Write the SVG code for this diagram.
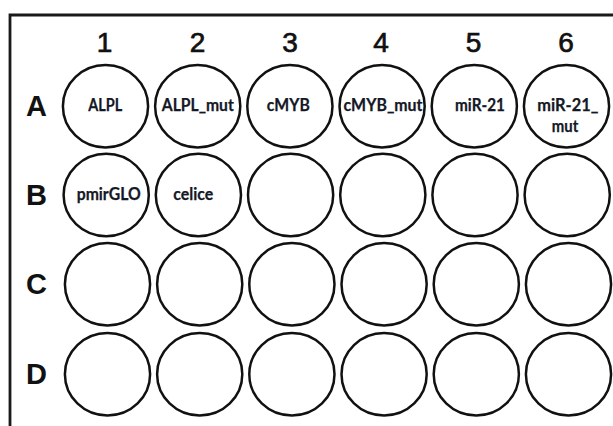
<svg xmlns="http://www.w3.org/2000/svg" width="613" height="426" viewBox="0 0 613 426">
  <style>
    .frame { fill: none; stroke: #1a1a1a; stroke-width: 2.8; }
    .well { fill: #ffffff; stroke: #111111; stroke-width: 2.5; }
    .col { font-family: "Liberation Sans", Arial, sans-serif; font-size: 28px; fill: #111111; stroke: #111111; stroke-width: 0.7; text-anchor: middle; }
    .row { font-family: "Liberation Sans", Arial, sans-serif; font-size: 29px; font-weight: bold; fill: #111111; text-anchor: middle; }
    .lbl { font-family: Lato, "Open Sans", sans-serif; font-size: 16.5px; font-weight: bold; fill: #141826; stroke: #141826; stroke-width: 0.25; text-anchor: middle; }
  </style>

  <!-- plate outline: top and left edges -->
  <path class="frame" d="M10,426 V15 H613"/>

  <!-- column numbers -->
  <g id="column-numbers">
    <text class="col" x="104.5" y="52">1</text>
    <text class="col" x="197.5" y="52">2</text>
    <text class="col" x="290" y="52">3</text>
    <text class="col" x="381" y="52">4</text>
    <text class="col" x="473.5" y="52">5</text>
    <text class="col" x="566" y="52">6</text>
  </g>

  <!-- row letters -->
  <g id="row-letters">
    <text class="row" x="36.5" y="115.5">A</text>
    <text class="row" x="36.5" y="204.5">B</text>
    <text class="row" x="36.5" y="293.5">C</text>
    <text class="row" x="36.5" y="384">D</text>
  </g>

  <!-- row A -->
  <g id="A1"><ellipse class="well" cx="105.5" cy="106.3" rx="42.6" ry="41.2"/><text class="lbl" x="105.3" y="111.3" textLength="34" lengthAdjust="spacingAndGlyphs">ALPL</text></g>
  <g id="A2"><ellipse class="well" cx="197.7" cy="106.3" rx="42.6" ry="41.2"/><text class="lbl" x="197.8" y="111.3" textLength="72" lengthAdjust="spacingAndGlyphs">ALPL_mut</text></g>
  <g id="A3"><ellipse class="well" cx="289.9" cy="106.3" rx="42.6" ry="41.2"/><text class="lbl" x="288.3" y="111.3" textLength="43" lengthAdjust="spacingAndGlyphs">cMYB</text></g>
  <g id="A4"><ellipse class="well" cx="382.1" cy="106.3" rx="42.6" ry="41.2"/><text class="lbl" x="383" y="111.3" textLength="79" lengthAdjust="spacingAndGlyphs">cMYB_mut</text></g>
  <g id="A5"><ellipse class="well" cx="474.3" cy="106.3" rx="42.6" ry="41.2"/><text class="lbl" x="480" y="110.5" textLength="50" lengthAdjust="spacingAndGlyphs">miR-21</text></g>
  <g id="A6"><ellipse class="well" cx="566.5" cy="106.3" rx="42.6" ry="41.2"/><text class="lbl" x="567.8" y="110.5" textLength="61" lengthAdjust="spacingAndGlyphs">miR-21_</text><text class="lbl" x="565" y="131.8" textLength="26.5" lengthAdjust="spacingAndGlyphs">mut</text></g>

  <!-- row B -->
  <g id="B1"><ellipse class="well" cx="106.2" cy="195" rx="42.6" ry="41.2"/><text class="lbl" x="108.7" y="200" textLength="64" lengthAdjust="spacingAndGlyphs">pmirGLO</text></g>
  <g id="B2"><ellipse class="well" cx="198.4" cy="195" rx="42.6" ry="41.2"/><text class="lbl" x="193.3" y="200" textLength="40" lengthAdjust="spacingAndGlyphs">celice</text></g>
  <g id="B3"><ellipse class="well" cx="290.6" cy="195" rx="42.6" ry="41.2"/></g>
  <g id="B4"><ellipse class="well" cx="382.8" cy="195" rx="42.6" ry="41.2"/></g>
  <g id="B5"><ellipse class="well" cx="475" cy="195" rx="42.6" ry="41.2"/></g>
  <g id="B6"><ellipse class="well" cx="567.2" cy="195" rx="42.6" ry="41.2"/></g>

  <!-- row C -->
  <g id="C1"><ellipse class="well" cx="107.5" cy="284.3" rx="42.6" ry="41.2"/></g>
  <g id="C2"><ellipse class="well" cx="199.7" cy="284.3" rx="42.6" ry="41.2"/></g>
  <g id="C3"><ellipse class="well" cx="291.9" cy="284.3" rx="42.6" ry="41.2"/></g>
  <g id="C4"><ellipse class="well" cx="384.1" cy="284.3" rx="42.6" ry="41.2"/></g>
  <g id="C5"><ellipse class="well" cx="476.3" cy="284.3" rx="42.6" ry="41.2"/></g>
  <g id="C6"><ellipse class="well" cx="568.5" cy="284.3" rx="42.6" ry="41.2"/></g>

  <!-- row D -->
  <g id="D1"><ellipse class="well" cx="107.5" cy="374.2" rx="42.6" ry="41.2"/></g>
  <g id="D2"><ellipse class="well" cx="199.7" cy="374.2" rx="42.6" ry="41.2"/></g>
  <g id="D3"><ellipse class="well" cx="291.9" cy="374.2" rx="42.6" ry="41.2"/></g>
  <g id="D4"><ellipse class="well" cx="384.1" cy="374.2" rx="42.6" ry="41.2"/></g>
  <g id="D5"><ellipse class="well" cx="476.3" cy="374.2" rx="42.6" ry="41.2"/></g>
  <g id="D6"><ellipse class="well" cx="568.5" cy="374.2" rx="42.6" ry="41.2"/></g>
</svg>
